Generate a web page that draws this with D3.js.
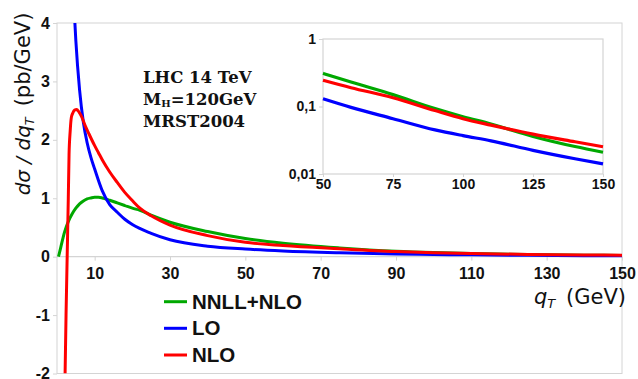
<!DOCTYPE html>
<html><head><meta charset="utf-8">
<script src="https://cdn.jsdelivr.net/npm/d3@7/dist/d3.min.js"></script>
<style>
html,body{margin:0;padding:0;background:#fff;}
svg{display:block;}
</style></head>
<body>
<svg id="chart" width="638" height="379"></svg>
<script>
// ---- data ----
const seriesNames = ["NNLL+NLO", "LO", "NLO"];
const seriesColors = ["#00a800", "#0000ff", "#ff0000"];

const qtNNLL = [0.4, 1, 2, 3, 4, 5, 6, 7, 8, 9, 10, 11, 12, 14, 16, 18, 20, 22, 25, 30, 40, 50, 60, 75, 90, 100, 110, 125, 140, 150];
const valNNLL = [0, 0.16, 0.42, 0.60, 0.73, 0.83, 0.905, 0.955, 0.99, 1.005, 1.015, 1.015, 1.005, 0.965, 0.92, 0.875, 0.83, 0.795, 0.71, 0.59, 0.43, 0.31, 0.23, 0.15, 0.093, 0.0705, 0.055, 0.036, 0.0255, 0.021];

const qtLO = [4.5, 5, 6, 7, 8, 9, 10, 12, 14, 16, 18, 20, 25, 30, 40, 50, 60, 75, 90, 100, 110, 125, 140, 150];
const valLO = [4.3, 3.7, 2.85, 2.3, 1.95, 1.70, 1.50, 1.13, 0.89, 0.76, 0.64, 0.55, 0.40, 0.29, 0.18, 0.13, 0.097, 0.066, 0.045, 0.037, 0.031, 0.0224, 0.0168, 0.0141];

const qtNLO = [2.15, 2.4, 2.7, 3.0, 3.2, 3.5, 3.8, 4.2, 4.7, 5.2, 5.8, 6.5, 7.5, 8.5, 10, 11, 12, 14, 16, 18, 20, 22, 25, 30, 40, 50, 60, 75, 90, 100, 110, 125, 140, 150];
const valNLO = [-2.0, -1.0, 0.0, 1.0, 1.75, 2.15, 2.38, 2.46, 2.51, 2.52, 2.48, 2.40, 2.24, 2.10, 1.90, 1.78, 1.66, 1.45, 1.27, 1.10, 0.96, 0.83, 0.70, 0.54, 0.36, 0.245, 0.19, 0.135, 0.087, 0.066, 0.053, 0.039, 0.030, 0.0253];

const mainXTicks = [10, 30, 50, 70, 90, 110, 130, 150];
const mainYTicks = [-2, -1, 0, 1, 2, 3, 4];
const insetXTicks = [50, 75, 100, 125, 150];
const insetYTicks = [0.01, 0.1, 1];
const insetYLabels = ["0,01", "0,1", "1"];
const infoLines = ["LHC 14 TeV", "=120GeV", "MRST2004"];

// ---- layout ----
const svg = d3.select("#chart");
const gridCol = "#d4d4d4";
const tickFont = "'Liberation Sans', Arial, sans-serif";

const x = d3.scaleLinear().domain([0, 150]).range([57, 622]);
const y = d3.scaleLinear().domain([-2, 4]).range([373.5, 23]);

const series = [
  {name: seriesNames[0], color: seriesColors[0], pts: qtNNLL.map((q,i)=>[q, valNNLL[i]])},
  {name: seriesNames[1], color: seriesColors[1], pts: qtLO.map((q,i)=>[q, valLO[i]])},
  {name: seriesNames[2], color: seriesColors[2], pts: qtNLO.map((q,i)=>[q, valNLO[i]])}
];

// plot frame
svg.append("rect").attr("x", x(0)).attr("y", y(4)).attr("width", x(150)-x(0)).attr("height", y(-2)-y(4))
  .attr("fill", "none").attr("stroke", gridCol).attr("stroke-width", 1);

// zero line
svg.append("line").attr("x1", x(0)).attr("x2", x(150)).attr("y1", y(0)).attr("y2", y(0))
  .attr("stroke", gridCol).attr("stroke-width", 1.2);

// x ticks
const xAxis = svg.append("g").attr("transform", `translate(0,${y(0)})`)
  .call(d3.axisBottom(x).tickValues(mainXTicks).tickSize(4).tickPadding(7).tickFormat(d => String(d)));
xAxis.select(".domain").remove();
xAxis.selectAll(".tick line").attr("stroke", gridCol);
xAxis.selectAll("text").attr("font-family", tickFont).attr("font-weight", "bold").attr("font-size", 16).attr("fill", "#111");

// y ticks
const yAxis = svg.append("g").attr("transform", `translate(${x(0)},0)`)
  .call(d3.axisLeft(y).tickValues(mainYTicks).tickSize(4).tickPadding(3).tickFormat(d => String(d)));
yAxis.select(".domain").remove();
yAxis.selectAll(".tick line").attr("stroke", gridCol);
yAxis.selectAll("text").attr("font-family", tickFont).attr("font-weight", "bold").attr("font-size", 16).attr("fill", "#111");

// clip
svg.append("clipPath").attr("id", "mainclip").append("rect")
  .attr("x", x(0)).attr("y", y(4)).attr("width", x(150)-x(0)).attr("height", y(-2)-y(4));

const line = d3.line().x(d=>x(d[0])).y(d=>y(d[1])).curve(d3.curveMonotoneX);
const gLines = svg.append("g").attr("clip-path", "url(#mainclip)");
series.forEach(s => {
  gLines.append("path").attr("d", line(s.pts)).attr("fill", "none")
    .attr("stroke", s.color).attr("stroke-width", 3).attr("stroke-linejoin", "round");
});

// ---- inset ----
const xi = d3.scaleLinear().domain([50, 150]).range([323, 603]);
const yi = d3.scaleLog().domain([0.01, 1]).range([174, 39]);

svg.append("rect").attr("x", xi(50)).attr("y", yi(1)).attr("width", xi(150)-xi(50)).attr("height", yi(0.01)-yi(1))
  .attr("fill", "#fff").attr("stroke", gridCol).attr("stroke-width", 1.2);

const xiAxis = svg.append("g").attr("transform", `translate(0,${yi(0.01)})`)
  .call(d3.axisBottom(xi).tickValues(insetXTicks).tickSize(3).tickPadding(2).tickFormat(d => String(d)));
xiAxis.select(".domain").remove();
xiAxis.selectAll(".tick line").attr("stroke", gridCol);
xiAxis.selectAll("text").attr("font-family", tickFont).attr("font-weight", "bold").attr("font-size", 14).attr("fill", "#111");

const yiAxis = svg.append("g").attr("transform", `translate(${xi(50)},0)`)
  .call(d3.axisLeft(yi).tickValues(insetYTicks).tickSize(4).tickPadding(3).tickFormat((d,i)=>insetYLabels[i]));
yiAxis.select(".domain").remove();
yiAxis.selectAll(".tick line").attr("stroke", gridCol);
yiAxis.selectAll("text").attr("font-family", tickFont).attr("font-weight", "bold").attr("font-size", 14).attr("fill", "#111");

const lineI = d3.line().x(d=>xi(d[0])).y(d=>yi(d[1])).curve(d3.curveMonotoneX);
series.forEach(s => {
  const pts = s.pts.filter(p => p[0] >= 50);
  svg.append("path").attr("d", lineI(pts)).attr("fill", "none")
    .attr("stroke", s.color).attr("stroke-width", 3.2).attr("stroke-linejoin", "round");
});

// ---- info text ----
const info = svg.append("text").attr("font-family", "'DejaVu Serif', serif").attr("font-weight", "bold")
  .attr("font-size", 16.5).attr("fill", "#111");
info.append("tspan").attr("x", 143).attr("y", 83).text(infoLines[0]);
const l2 = info.append("tspan").attr("x", 143).attr("y", 105);
l2.append("tspan").text("M");
l2.append("tspan").attr("font-size", 10).attr("dy", 2).text("H");
l2.append("tspan").attr("dy", -2).text(infoLines[1]);
info.append("tspan").attr("x", 143).attr("y", 127).text(infoLines[2]);

// ---- legend ----
const legY = [301.7, 328.3, 355];
series.forEach((s, i) => {
  svg.append("line").attr("x1", 164).attr("x2", 187).attr("y1", legY[i]).attr("y2", legY[i])
    .attr("stroke", s.color).attr("stroke-width", 3);
  svg.append("text").attr("x", 192).attr("y", legY[i] + 7).attr("font-family", tickFont)
    .attr("font-weight", "bold").attr("font-size", 20.5).attr("fill", "#111").text(s.name);
});

// ---- axis titles ----
const xt = svg.append("text").attr("x", 626).attr("y", 304).attr("text-anchor", "end")
  .attr("font-family", "'DejaVu Sans', sans-serif").attr("font-size", 21).attr("fill", "#111");
xt.append("tspan").attr("font-style", "italic").text("q");
xt.append("tspan").attr("font-style", "italic").attr("font-size", 13).attr("dy", 4).text("T");
xt.append("tspan").attr("dy", -4).text("\u2009 (GeV)");

const yt = svg.append("text").attr("transform", "translate(30,104) rotate(-90)").attr("text-anchor", "middle")
  .attr("font-family", "'DejaVu Sans', sans-serif").attr("font-size", 21).attr("fill", "#111");
yt.append("tspan").attr("font-style", "italic").attr("font-size", 20).text("d\u03c3 / dq");
yt.append("tspan").attr("font-style", "italic").attr("font-size", 13).attr("dy", 4).text("T");
yt.append("tspan").attr("dy", -4).text("\u2009 (pb/GeV)");
</script>
</body></html>
